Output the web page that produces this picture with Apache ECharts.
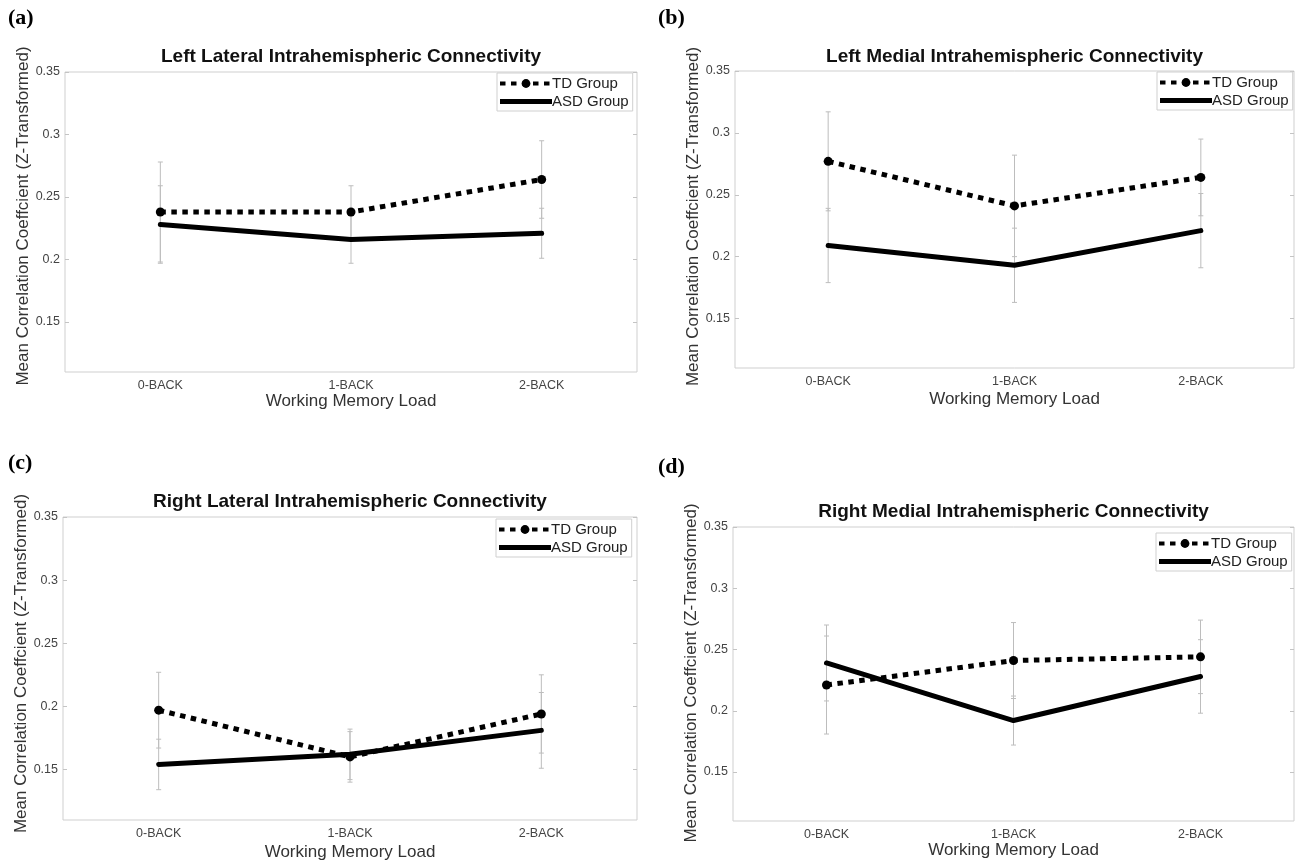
<!DOCTYPE html>
<html><head><meta charset="utf-8">
<script src="https://cdn.jsdelivr.net/npm/echarts@6/dist/echarts.min.js"></script>
<style>html,body{margin:0;padding:0;background:#fff}#c{width:1300px;height:862px}</style>
</head><body><div id="c"></div>
<script>
// ---------- DATA ----------
const categories = ['0-BACK', '1-BACK', '2-BACK'];
const yTickValues = [0.15, 0.2, 0.25, 0.3, 0.35];
const yTickLabels = ['0.15', '0.2', '0.25', '0.3', '0.35'];
const seriesNames = ['TD Group', 'ASD Group'];
const panelLabels = ['(a)', '(b)', '(c)', '(d)'];
const panelTitles = [
  'Left Lateral Intrahemispheric Connectivity',
  'Left Medial Intrahemispheric Connectivity',
  'Right Lateral Intrahemispheric Connectivity',
  'Right Medial Intrahemispheric Connectivity'
];
const xAxisTitle = 'Working Memory Load';
const yAxisTitle = 'Mean Correlation Coeffcient (Z-Transformed)';

const tdA = [0.238, 0.238, 0.264];
const tdErrA = [0.040, 0.021, 0.031];
const asdA = [0.228, 0.216, 0.221];
const asdErrA = [0.031, 0.019, 0.020];

const tdB = [0.277, 0.241, 0.264];
const tdErrB = [0.040, 0.041, 0.031];
const asdB = [0.209, 0.193, 0.221];
const asdErrB = [0.030, 0.030, 0.030];

const tdC = [0.197, 0.160, 0.194];
const tdErrC = [0.030, 0.020, 0.031];
const asdC = [0.154, 0.162, 0.181];
const asdErrC = [0.020, 0.020, 0.030];

const tdD = [0.221, 0.241, 0.244];
const tdErrD = [0.040, 0.031, 0.030];
const asdD = [0.239, 0.192, 0.228];
const asdErrD = [0.031, 0.020, 0.030];

const yMin = 0.11, yMax = 0.35;

// ---------- LAYOUT ----------
const panels = [
  {td: tdA, tdErr: tdErrA, asd: asdA, asdErr: asdErrA},
  {td: tdB, tdErr: tdErrB, asd: asdB, asdErr: asdErrB},
  {td: tdC, tdErr: tdErrC, asd: asdC, asdErr: asdErrC},
  {td: tdD, tdErr: tdErrD, asd: asdD, asdErr: asdErrD}
];
const layout = [
  {grid: {left: 65, top: 72, width: 572, height: 300}, legend: {left: 497, top: 73}, label: [8, 18], titleY: 57, yGap: 33, xGap: 21, yShift: 12},
  {grid: {left: 735, top: 71, width: 559, height: 297}, legend: {left: 1157, top: 72}, label: [658, 18], titleY: 57, yGap: 31, xGap: 23, yShift: 6},
  {grid: {left: 63, top: 517, width: 574, height: 303}, legend: {left: 496, top: 519}, label: [8, 463], titleY: 502, yGap: 33, xGap: 24, yShift: 10},
  {grid: {left: 733, top: 527, width: 561, height: 294}, legend: {left: 1156, top: 533}, label: [658, 467], titleY: 512, yGap: 30, xGap: 20, yShift: 2}
];

const FONT = 'Liberation Sans, Arial, Helvetica, sans-serif';
const errColor = '#bdbdbd';
const tickColor = '#c4c4c4';

function errRender(params, api) {
  const x = api.value(0);
  const lo = api.coord([x, api.value(1)]);
  const hi = api.coord([x, api.value(2)]);
  const w = 2.5;
  const st = {stroke: errColor, lineWidth: 1};
  return {type: 'group', children: [
    {type: 'line', shape: {x1: lo[0], y1: lo[1], x2: hi[0], y2: hi[1]}, style: st},
    {type: 'line', shape: {x1: lo[0] - w, y1: lo[1], x2: lo[0] + w, y2: lo[1]}, style: st},
    {type: 'line', shape: {x1: hi[0] - w, y1: hi[1], x2: hi[0] + w, y2: hi[1]}, style: st}
  ]};
}

const grids = [], xAxes = [], yAxes = [], series = [], legends = [], graphics = [];
panels.forEach((p, i) => {
  const L = layout[i];
  grids.push(Object.assign({show: true, borderColor: '#cfcfcf', borderWidth: 1, containLabel: false}, L.grid));
  const xi = xAxes.length, yi = yAxes.length;
  xAxes.push({
    gridIndex: i, type: 'category', data: categories, boundaryGap: true, position: 'bottom',
    axisLine: {show: false},
    axisTick: {inside: true, alignWithLabel: true, length: 4, lineStyle: {color: tickColor}},
    axisLabel: {margin: 7, fontSize: 12.5, color: '#444', fontFamily: FONT},
    splitLine: {show: false},
    name: xAxisTitle, nameLocation: 'middle', nameGap: L.xGap,
    nameTextStyle: {fontSize: 17, color: '#333', fontFamily: FONT}
  });
  xAxes.push({
    gridIndex: i, type: 'category', data: categories, boundaryGap: true, position: 'top',
    axisLine: {show: false},
    axisTick: {inside: true, alignWithLabel: true, length: 4, lineStyle: {color: tickColor}},
    axisLabel: {show: false}, splitLine: {show: false}
  });
  yAxes.push({
    gridIndex: i, type: 'value', min: yMin, max: yMax, position: 'left',
    axisLine: {show: false},
    axisTick: {show: true, inside: true, length: 4, lineStyle: {color: tickColor}, customValues: yTickValues},
    axisLabel: {margin: 5, fontSize: 12.5, color: '#444', fontFamily: FONT, customValues: yTickValues,
      formatter: v => yTickLabels[yTickValues.findIndex(t => Math.abs(t - v) < 1e-9)] || ''},
    splitLine: {show: false},
    name: yAxisTitle, nameLocation: 'middle', nameGap: L.yGap,
    nameTextStyle: {fontSize: 17, color: '#333', fontFamily: FONT, padding: [0, 0, 0, L.yShift]}
  });
  yAxes.push({
    gridIndex: i, type: 'value', min: yMin, max: yMax, position: 'right',
    axisLine: {show: false},
    axisTick: {show: true, inside: true, length: 4, lineStyle: {color: tickColor}, customValues: yTickValues},
    axisLabel: {show: false}, splitLine: {show: false}
  });

  const mk = (vals, errs) => vals.map((v, k) => [k, v - errs[k], v + errs[k]]);
  series.push({
    type: 'custom', name: 'err-td-' + i, xAxisIndex: xi, yAxisIndex: yi, z: 1,
    renderItem: errRender, encode: {x: 0, y: [1, 2]}, data: mk(p.td, p.tdErr), silent: true
  });
  series.push({
    type: 'custom', name: 'err-asd-' + i, xAxisIndex: xi, yAxisIndex: yi, z: 1,
    renderItem: errRender, encode: {x: 0, y: [1, 2]}, data: mk(p.asd, p.asdErr), silent: true
  });
  series.push({
    type: 'line', name: seriesNames[1], xAxisIndex: xi, yAxisIndex: yi, z: 3,
    data: p.asd, symbol: 'none',
    lineStyle: {color: '#000', width: 5, type: 'solid', cap: 'round'},
    itemStyle: {color: '#000'}
  });
  series.push({
    type: 'line', name: seriesNames[0], xAxisIndex: xi, yAxisIndex: yi, z: 4,
    data: p.td, symbol: 'circle', symbolSize: 9, showSymbol: true,
    lineStyle: {color: '#000', width: 5, type: [5.5, 5.5], cap: 'butt'},
    itemStyle: {color: '#000'}
  });

  legends.push({
    data: [{name: seriesNames[0]}, {name: seriesNames[1], icon: 'path://M0,0H52V5H0Z'}],
    orient: 'vertical', left: L.legend.left, top: L.legend.top,
    padding: [3, 4, 2, 1], itemGap: 3, itemWidth: 52, itemHeight: 11,
    borderColor: '#cfcfcf', borderWidth: 1, backgroundColor: '#fff',
    textStyle: {fontSize: 15, color: '#222', fontFamily: FONT, padding: [0, 0, 0, -5]},
    lineStyle: {width: 4}, selectedMode: false
  });

  graphics.push({
    type: 'text', x: L.label[0], y: L.label[1], z: 10,
    style: {text: panelLabels[i], font: 'bold 22px Liberation Serif, Times New Roman, serif', fill: '#000',
      align: 'left', verticalAlign: 'middle'}
  });
  graphics.push({
    type: 'text', x: L.grid.left + L.grid.width / 2, y: L.titleY, z: 10,
    style: {text: panelTitles[i], font: 'bold 19px ' + FONT, fill: '#111',
      align: 'center', verticalAlign: 'middle'}
  });
});

const chart = echarts.init(document.getElementById('c'), null, {renderer: 'canvas'});
chart.setOption({
  animation: false,
  backgroundColor: '#fff',
  grid: grids, xAxis: xAxes, yAxis: yAxes, series: series,
  legend: legends, graphic: graphics
});
</script>
</body></html>
